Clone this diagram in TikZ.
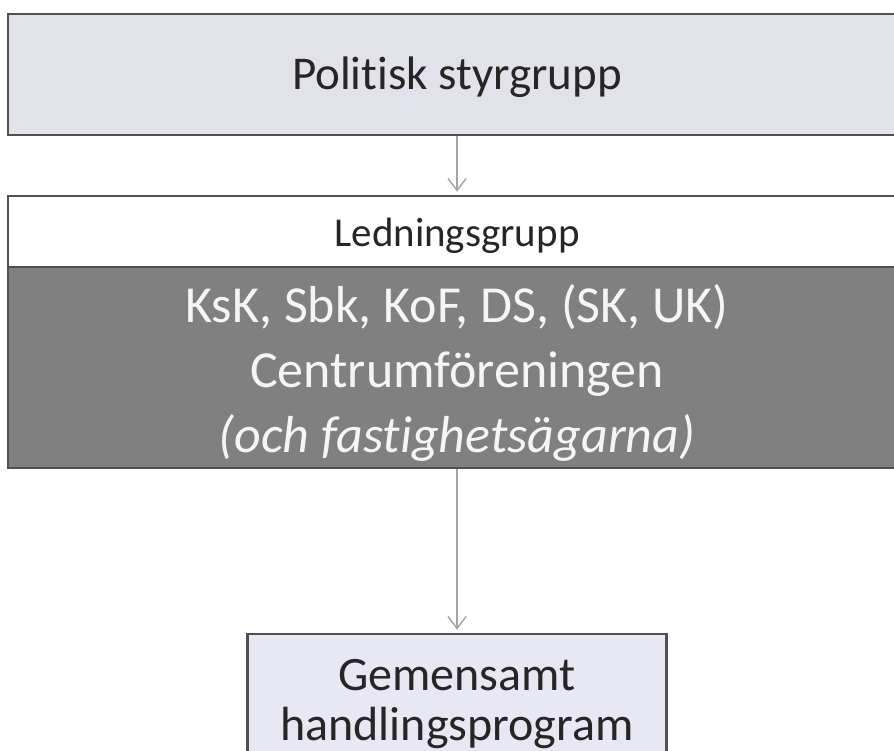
\documentclass[tikz,border=0pt]{standalone}
\usepackage{fontspec}
\setmainfont{Carlito}[Ligatures={NoCommon}]
\usetikzlibrary{arrows.meta, positioning}
\definecolor{ramkant}{RGB}{80,80,80}
\definecolor{ljuslila}{RGB}{226,226,234}
\definecolor{lila}{RGB}{232,232,244}
\definecolor{morkgra}{RGB}{128,128,128}
\definecolor{pil}{RGB}{165,165,165}
\definecolor{text}{RGB}{38,38,38}

\begin{document}
\begin{tikzpicture}[x=1pt,y=-1pt,
    box/.style={draw=ramkant,line width=2.5pt,rectangle,inner sep=0pt,align=center,text=text},
    pil/.style={draw=pil,line width=1.5pt,-{Straight Barb[length=12pt,width=18pt]},shorten >=3pt}]
      \useasboundingbox (0,0) rectangle (894,751);
      \clip (0,0) rectangle (894,751);
      \node[box,fill=ljuslila,minimum width=898pt,minimum height=121pt,
            text height=40pt,text depth=9pt,
            font=\fontsize{47}{56}\selectfont] (styr) at (457,74.5) {Politisk styrgrupp};
      \node[box,fill=white,minimum width=898pt,minimum height=71pt,
            text height=40pt,text depth=9pt,
            font=\fontsize{41}{49}\selectfont] (ledning) at (457,231.5) {Ledningsgrupp};
      \node[box,fill=morkgra,minimum width=898pt,minimum height=201pt,text=white!96!black,
            text height=169pt,text depth=0pt,
            font=\fontsize{52}{65}\selectfont] (medlem) at (457,367.5)
            {KsK, Sbk, KoF, DS, (SK, UK)\\Centrumföreningen\\\textit{(och fastighetsägarna)}};
      \node[box,fill=lila,minimum width=419pt,minimum height=146pt,
            text height=76pt,text depth=10pt,
            font=\fontsize{48}{50}\selectfont] (program) at (457,707)
            {Gemensamt\\handlingsprogram};
      \path[pil] (styr) edge (ledning)
      (medlem) edge (program);
    \end{tikzpicture}
\end{document}
